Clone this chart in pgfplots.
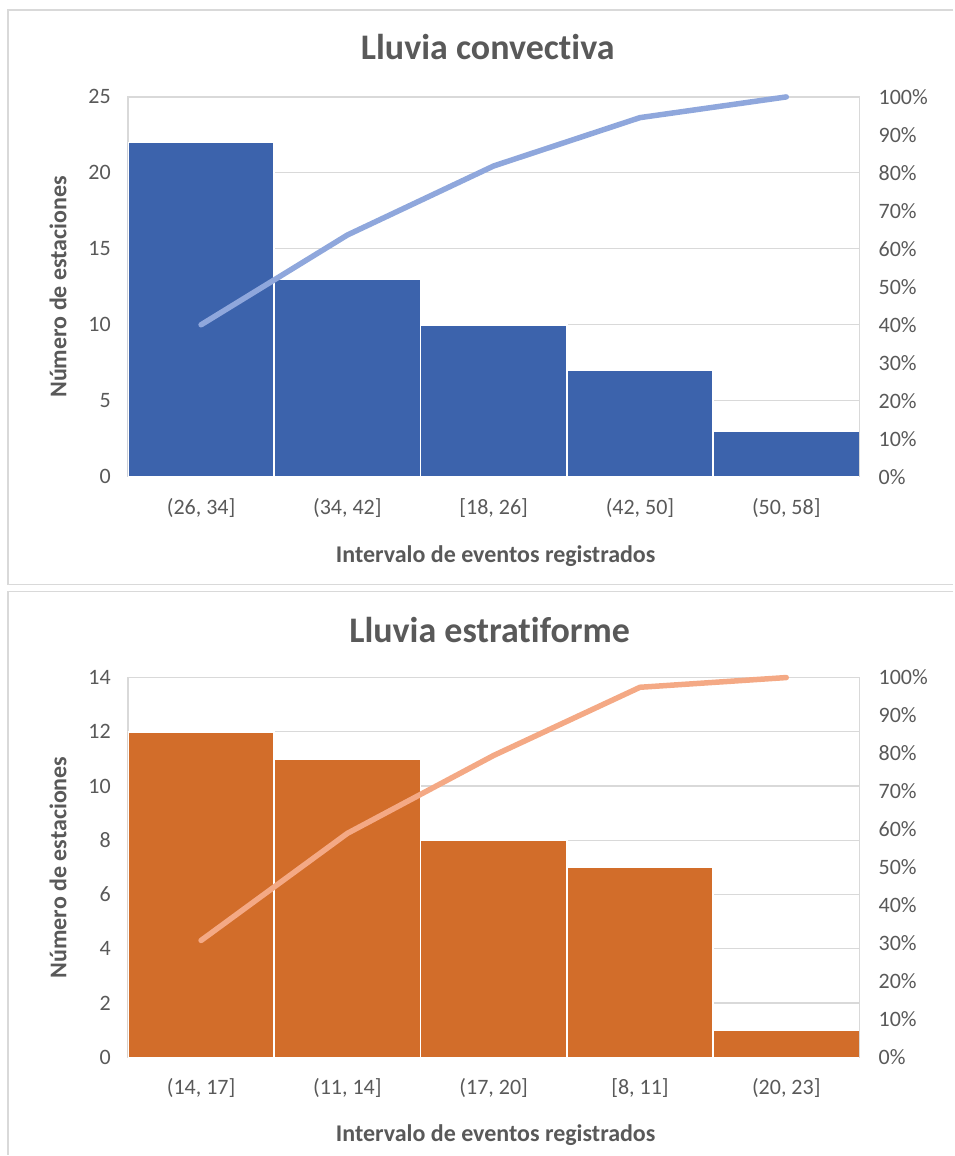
\documentclass[border=0pt]{standalone}
\usepackage{pgfplots}
\pgfplotsset{compat=1.18}
\usepackage{fontspec}
\setmainfont{Carlito}[Ligatures=NoCommon]
\definecolor{txt}{HTML}{595959}
\definecolor{gridc}{HTML}{D9D9D9}
\definecolor{barblue}{HTML}{3C63AC}
\definecolor{lineblue}{HTML}{8FA7DC}
\definecolor{barorange}{HTML}{D26D2A}
\definecolor{lineorange}{HTML}{F4A985}
\pgfplotsset{
  base/.style={scale only axis, width=732pt, height=380pt, xmin=-0.5, xmax=4.5,
    anchor=south west, major tick length=0pt, tick style={draw=none},
    tick label style={font=\fontsize{22}{26}\selectfont, text=txt},
    /pgf/number format/assume math mode=true},
  leftax/.style={base, xtick={0,1,2,3,4}, ymin=0,
    ymajorgrids, grid style={gridc, line width=1.2pt},
    axis line style={gridc, line width=1.2pt},
    xticklabel style={anchor=center, yshift=-31pt},
    yticklabel style={anchor=east, inner sep=0pt, xshift=-17pt}},
  rightax/.style={base, ymin=0, ymax=100, ytick={0,10,...,100},
    axis y line*=right, hide x axis, clip=false,
    y axis line style={gridc, line width=1.2pt},
    yticklabel={\pgfmathprintnumber{\tick}\%},
    yticklabel style={anchor=west, inner sep=0pt, xshift=19pt}},
}
\begin{document}
\begin{tikzpicture}
\path (0pt,0pt) rectangle (954pt,1156pt);
% panels
\draw[gridc, line width=1.5pt] (954pt,1146pt) -- (8pt,1146pt) -- (8pt,571pt) -- (954pt,571pt);
\draw[gridc, line width=1.5pt] (954pt,564pt) -- (8pt,564pt) -- (8pt,0pt);

% ---------- top chart
\begin{axis}[leftax, at={(128pt,679pt)}, ymax=25, ytick={0,5,...,25},
  xticklabels={{(26, 34]},{(34, 42]},{[18, 26]},{(42, 50]},{(50, 58]}}]
\addplot[ybar, bar width=1, fill=barblue, draw=white, line width=1.5pt]
  coordinates {(0,22) (1,13) (2,10) (3,7) (4,3)};
\end{axis}
\begin{axis}[rightax, at={(128pt,679pt)}]
\addplot[lineblue, line width=5.5pt, line cap=round, line join=round]
  coordinates {(0,40) (1,63.64) (2,81.82) (3,94.55) (4,100)};
\end{axis}
\node[text=txt, font=\bfseries\fontsize{36}{43}\selectfont] at (488pt,1109pt) {Lluvia convectiva};
\node[text=txt, font=\bfseries\fontsize{24}{29}\selectfont] at (496pt,600pt) {Intervalo de eventos registrados};
\node[text=txt, font=\bfseries\fontsize{24}{29}\selectfont, rotate=90] at (58pt,869pt) {Número de estaciones};

% ---------- bottom chart
\begin{axis}[leftax, at={(128pt,98pt)}, ymax=14, ytick={0,2,...,14},
  xticklabels={{(14, 17]},{(11, 14]},{(17, 20]},{[8, 11]},{(20, 23]}}]
\addplot[ybar, bar width=1, fill=barorange, draw=white, line width=1.5pt]
  coordinates {(0,12) (1,11) (2,8) (3,7) (4,1)};
\end{axis}
\begin{axis}[rightax, at={(128pt,98pt)}]
\addplot[lineorange, line width=5.5pt, line cap=round, line join=round]
  coordinates {(0,30.77) (1,58.97) (2,79.49) (3,97.44) (4,100)};
\end{axis}
\node[text=txt, font=\bfseries\fontsize{36}{43}\selectfont] at (490pt,526pt) {Lluvia estratiforme};
\node[text=txt, font=\bfseries\fontsize{24}{29}\selectfont] at (496pt,20pt) {Intervalo de eventos registrados};
\node[text=txt, font=\bfseries\fontsize{24}{29}\selectfont, rotate=90] at (58pt,288pt) {Número de estaciones};
\end{tikzpicture}
\end{document}
